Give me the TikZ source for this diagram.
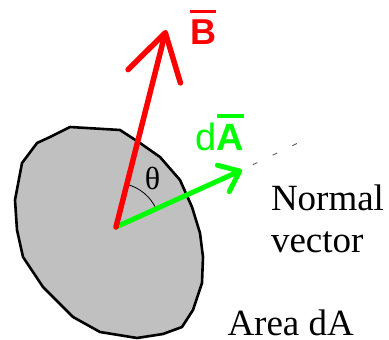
\documentclass[tikz,border=0pt]{standalone}
\usepackage{fontspec}
\setmainfont{Liberation Serif}
\newfontfamily\arialfont{Liberation Sans}
\usetikzlibrary{arrows.meta}
\newcommand\ovbar[2]{\vbox{\hrule height 3.4pt\kern #1\hbox{#2}}}
\definecolor{areagray}{HTML}{C0C0C0}
\tikzset{
  areashape/.style={draw=black, line width=2.6pt, fill=areagray, line join=round},
  redvec/.style={draw=red, line width=5.5pt, line cap=round,
    -{Straight Barb[length=45pt,width=54pt,round]}},
  greenvec/.style={draw=green, line width=5pt, line cap=round,
    -{Straight Barb[length=18pt,width=29pt,round]}},
  dashline/.style={draw=black!65, line width=0.9pt, dash pattern=on 5pt off 17pt, dash phase=-12pt},
  anglearc/.style={draw=black, line width=0.8pt},
  lbl/.style={inner sep=0pt, outer sep=0pt},
  seriflbl/.style={lbl, font=\fontsize{37}{42}\selectfont, anchor=base west}
}
\begin{document}
\begin{tikzpicture}[x=1pt,y=-1pt]
\useasboundingbox (0,0) rectangle (389,340);
% area element
\draw[areashape] (70,127) -- (120,130) -- (140,143) -- (160,157) -- (180,180)
  -- (192,207) -- (200,233) -- (203,257) -- (202,283) -- (193,310) -- (182,327)
  -- (163,334) -- (137,338) -- (100,332) -- (73,317) -- (43,287) -- (23,257)
  -- (17,230) -- (15,200) -- (22,163) -- (37,143) -- (50,137) -- cycle;
\coordinate (O) at (116,227);
\coordinate (Btip) at (166,30);
\coordinate (Atip) at (242,170);
\coordinate (Dend) at (300,142);
% angle
\draw[anglearc] (O) ++(-75.6:44) arc[start angle=-75.6, end angle=-24.2, radius=44];
\node[lbl, font=\fontsize{32}{36}\selectfont] (theta) at (152.5,178) {θ};
% vectors
\draw[dashline] (Atip) -- (Dend);
\draw[greenvec] (O) -- (Atip);
\draw[redvec] (O) -- (Btip);
% labels
\node[lbl, anchor=base west, text=red, font=\fontsize{36}{40}\selectfont\arialfont]
  (Blbl) at (190,45) {\ovbar{7pt}{\bfseries B}};
\node[lbl, anchor=base west, text=green, font=\fontsize{38}{42}\selectfont\arialfont]
  (Albl) at (195.5,150) {d\ovbar{6pt}{\bfseries A}};
\node[seriflbl] (normal) at (271,210) {Normal};
\node[seriflbl] (vector) at (271,252) {vector};
\node[seriflbl] (area) at (227.5,335) {Area dA};
\end{tikzpicture}
\end{document}
